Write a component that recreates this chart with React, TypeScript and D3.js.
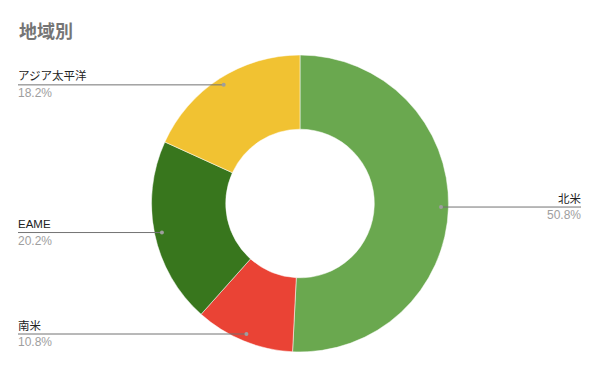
import React from "react";
import * as d3 from "d3";

const categories = ["北米", "南米", "EAME", "アジア太平洋"];
const values = [50.8, 10.8, 20.2, 18.2];
const colors = ["#6aa84f", "#ea4335", "#38761d", "#f1c232"];

const W = 600;
const H = 371;
const cx = 300;
const cy = 203.5;
const R = 148.5;
const r = 74.3;

export default function App() {
  const pie = d3.pie<number>().sort(null).value((d) => d)(values);
  const arc = d3.arc<d3.PieArcDatum<number>>().innerRadius(r).outerRadius(R);
  const font = "'Liberation Sans', Arial, 'Noto Sans CJK JP', sans-serif";
  return (
    <svg
      width={W}
      height={H}
      style={{ position: "absolute", left: 0, top: 0, display: "block", background: "#fff" }}
    >
      <text x={19} y={38} fontSize={18} fontWeight="bold" fill="#757575" fontFamily="'Noto Sans CJK JP', sans-serif">
        地域別
      </text>
      <g transform={`translate(${cx},${cy})`}>
        {pie.map((p, i) => (
          <path key={i} d={arc(p) || ""} fill={colors[i]} stroke="#fff" strokeWidth={0.5} />
        ))}
      </g>
      {pie.map((p, i) => {
        const mid = (p.startAngle + p.endAngle) / 2;
        const dr = R * 0.95;
        const dx = cx + dr * Math.sin(mid);
        const dy = cy - dr * Math.cos(mid);
        const right = Math.sin(mid) > 0;
        const ly = dy;
        const x0 = right ? 581 : 18;
        const pct = values[i].toFixed(1) + "%";
        return (
          <g key={"l" + i}>
            <line x1={dx} y1={ly} x2={x0} y2={ly} stroke="#737373" strokeWidth={1} />
            <circle cx={dx} cy={dy} r={2} fill="#9e9e9e" />
            <text
              x={x0}
              y={ly - 4.5}
              fontSize={11.5}
              fill="#222"
              textAnchor={right ? "end" : "start"}
              fontFamily={font}
            >
              {categories[i]}
            </text>
            <text
              x={x0}
              y={ly + 12}
              fontSize={12}
              fill="#9e9e9e"
              textAnchor={right ? "end" : "start"}
              fontFamily={font}
            >
              {pct}
            </text>
          </g>
        );
      })}
    </svg>
  );
}
